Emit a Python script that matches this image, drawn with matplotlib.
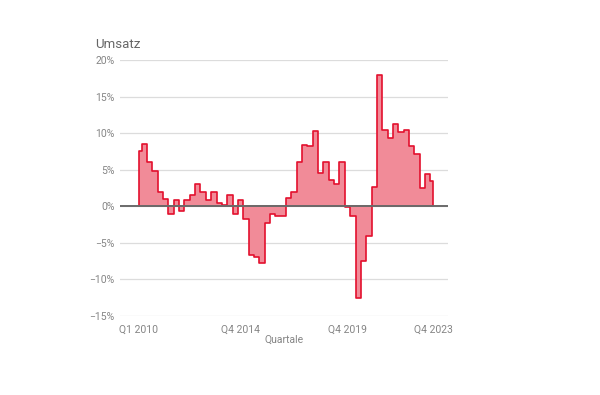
import matplotlib
matplotlib.use("Agg")
import matplotlib.pyplot as plt
import numpy as np

plt.rcParams['font.family'] = ['Roboto', 'DejaVu Sans']

# Quarterly change in turnover (%), Q1 2010 .. Q4 2023
values = [7.6, 8.5, 6.1, 4.8, 1.9, 1.0, -1.0, 0.9, -0.6, 0.9,
          1.6, 3.0, 1.9, 0.8, 1.9, 0.5, 0.2, 1.5, -1.1, 0.8,
          -1.8, -6.6, -6.9, -7.8, -2.3, -1.1, -1.3, -1.3, 1.1, 2.0,
          6.1, 8.4, 8.25, 10.3, 4.6, 6.0, 3.6, 3.0, 6.0, -0.1,
          -1.3, -12.6, -7.5, -4.0, 2.6, 18.0, 10.4, 9.3, 11.2, 10.1,
          10.4, 8.3, 7.2, 2.5, 4.4, 3.5]
quarters = [f"Q{q} {y}" for y in range(2010, 2024) for q in range(1, 5)]
shown_labels = ["Q1 2010", "Q4 2014", "Q4 2019", "Q4 2023"]
y_ticks = [20, 15, 10, 5, 0, -5, -10, -15]

x = np.arange(len(values))
y = np.array(values)

fig = plt.figure(figsize=(6, 3.95), dpi=100)
ax = fig.add_axes([120/600, 79/395, 328/600, 256/395])

ax.fill_between(x, y, 0, step='mid', facecolor='#f18b98', edgecolor='#e3102e',
                linewidth=1.2, zorder=2)
ax.axhline(0, color='#6b6b6b', linewidth=1.4, zorder=3)

ax.set_ylim(-15, 20)
ax.set_xlim(-3.55, 57.8)
ax.set_yticks(y_ticks)
ax.set_yticklabels([f"{t}%".replace('-', '\u2212') for t in y_ticks])
ax.yaxis.grid(True, color='#dcdcdc', linewidth=0.9, zorder=0)
ax.set_axisbelow(True)

tick_pos = [quarters.index(l) for l in shown_labels]
ax.set_xticks(tick_pos)
ax.set_xticklabels(shown_labels)

for s in ax.spines.values():
    s.set_visible(False)
ax.tick_params(axis='both', length=0, labelsize=7.5, colors='#858585')
ax.tick_params(axis='y', pad=4)
ax.tick_params(axis='x', pad=6)

fig.text(95/600, 1 - 44/395, "Umsatz", fontsize=9.5, color='#666666',
         ha='left', va='center')
ax.set_xlabel("Quartale", fontsize=7.5, color='#858585', labelpad=0)

fig.savefig("out.png", dpi=100)
